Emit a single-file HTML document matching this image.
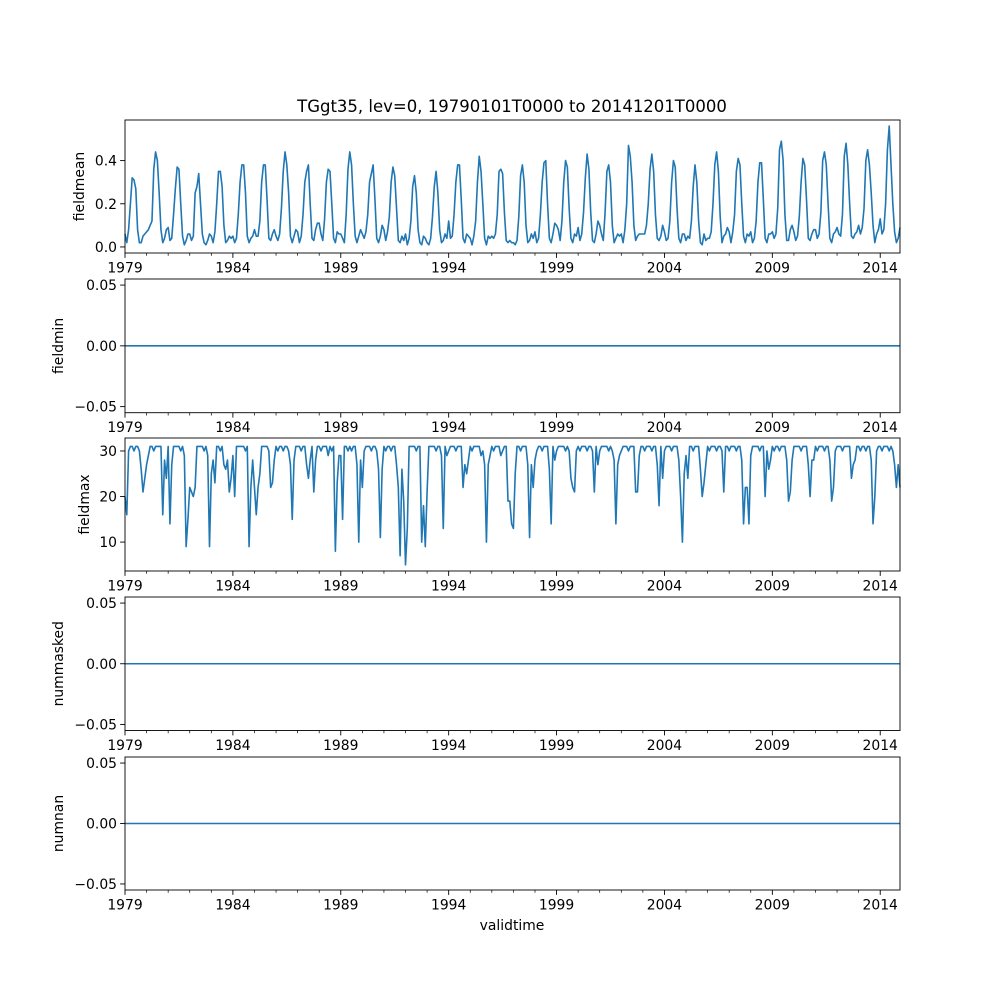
<!DOCTYPE html>
<html><head><meta charset="utf-8">
<style>
body{margin:0;background:#fff;}
svg text{font-family:"DejaVu Sans","Liberation Sans",sans-serif;fill:#000;}
</style></head>
<body>
<svg id="fig" width="1000" height="1000" viewBox="0 0 1000 1000" xmlns="http://www.w3.org/2000/svg">
<rect width="1000" height="1000" fill="#fff"/>
<text x="512" y="112" font-size="16.5" text-anchor="middle">TGgt35, lev=0, 19790101T0000 to 20141201T0000</text>
<text x="512" y="930" font-size="13.9" text-anchor="middle">validtime</text>
</svg>
<script>
// ---- data ----
const startYear = 1979;
const xTickYears = [1979,1984,1989,1994,1999,2004,2009,2014];
const fieldmean = [
.06,.02,.08,.20,.32,.31,.27,.08,.02,.02,.05,.06,
.07,.08,.10,.12,.36,.44,.40,.25,.08,.02,.04,.08,
.09,.03,.04,.15,.27,.37,.36,.20,.05,.01,.03,.06,
.06,.03,.05,.25,.28,.34,.20,.06,.02,.01,.03,.06,
.05,.02,.07,.20,.35,.35,.28,.10,.02,.03,.05,.04,
.05,.02,.04,.15,.30,.38,.38,.25,.05,.02,.04,.05,
.08,.05,.05,.12,.30,.38,.38,.22,.04,.03,.06,.08,
.05,.03,.06,.18,.35,.44,.38,.25,.05,.02,.05,.08,
.07,.02,.05,.15,.30,.35,.38,.20,.04,.03,.08,.11,
.11,.06,.03,.13,.30,.36,.35,.20,.04,.02,.07,.06,
.06,.04,.02,.15,.36,.44,.38,.20,.05,.02,.05,.08,
.06,.04,.07,.15,.30,.34,.38,.22,.04,.02,.05,.10,
.08,.03,.07,.14,.30,.37,.33,.18,.03,.02,.05,.03,
.06,.01,.04,.12,.28,.33,.25,.08,.02,.01,.05,.04,
.02,.01,.04,.14,.28,.35,.25,.08,.02,.03,.06,.04,
.12,.04,.05,.15,.30,.38,.38,.22,.04,.02,.06,.05,
.04,.01,.05,.12,.30,.42,.35,.20,.04,.01,.05,.04,
.05,.04,.06,.15,.35,.36,.34,.16,.03,.02,.03,.02,
.02,.01,.03,.14,.33,.38,.30,.10,.02,.03,.06,.04,
.07,.02,.04,.15,.30,.39,.40,.20,.04,.02,.06,.11,
.10,.08,.03,.12,.30,.40,.37,.18,.04,.02,.06,.05,
.09,.03,.06,.16,.32,.43,.36,.16,.03,.02,.06,.12,
.10,.06,.03,.16,.35,.38,.30,.10,.02,.04,.06,.05,
.06,.02,.08,.20,.47,.42,.30,.10,.03,.05,.06,.06,
.06,.06,.10,.20,.36,.43,.35,.15,.04,.03,.05,.10,
.07,.03,.04,.12,.30,.40,.37,.18,.04,.02,.06,.06,
.03,.05,.04,.12,.28,.38,.30,.12,.02,.01,.06,.03,
.04,.04,.07,.20,.38,.44,.35,.14,.02,.05,.06,.09,
.07,.02,.07,.15,.35,.41,.38,.20,.05,.02,.06,.05,
.07,.02,.04,.12,.30,.39,.39,.22,.04,.02,.06,.06,
.07,.04,.06,.18,.45,.49,.40,.15,.03,.03,.08,.10,
.07,.03,.05,.14,.30,.41,.38,.22,.04,.03,.06,.08,
.08,.04,.06,.16,.40,.44,.38,.20,.04,.02,.06,.07,
.09,.06,.05,.15,.42,.48,.38,.20,.05,.04,.06,.07,
.10,.06,.09,.18,.40,.45,.38,.25,.10,.02,.06,.08,
.13,.06,.08,.20,.45,.56,.38,.20,.07,.02,.04,.09
];
const fieldmax = [
20,16,30,31,31,30,31,31,30,26,21,24,
27,29,31,31,30,31,31,31,31,16,28,24,
31,14,27,31,31,31,31,30,31,29,9,15,
22,21,20,22,31,31,31,31,30,31,29,9,
25,28,23,31,31,30,31,27,26,28,21,24,
29,20,31,31,31,31,31,30,31,9,22,28,
22,16,22,25,31,31,31,31,30,22,23,28,
31,30,31,31,30,31,31,30,27,15,28,31,
31,31,30,31,31,27,24,28,31,21,28,31,
31,30,31,31,31,29,31,30,31,8,23,29,
29,15,31,31,30,31,30,31,31,27,10,28,
22,30,31,31,31,30,31,31,30,26,11,26,
31,30,31,31,30,31,31,27,22,7,26,19,
5,13,31,31,31,31,30,31,31,10,18,9,
21,31,31,31,31,30,31,31,29,13,31,29,
30,31,31,31,30,31,31,31,22,27,25,28,
31,30,31,31,31,31,29,30,27,10,27,29,
31,30,31,31,31,29,30,31,31,19,19,14,
13,25,31,31,30,31,31,31,27,11,27,22,
28,30,31,31,30,31,31,31,26,14,31,28,
30,31,31,31,31,30,31,30,24,22,21,30,
31,30,31,31,31,30,31,31,30,21,31,27,
30,31,31,31,31,30,31,30,28,14,27,29,
30,31,31,31,30,31,31,31,21,21,29,31,
31,30,31,31,31,30,31,31,27,18,31,24,
30,31,31,31,30,31,31,31,28,20,10,25,
29,24,31,31,30,31,31,31,26,20,23,27,
31,30,31,31,31,30,31,31,30,21,31,31,
30,31,31,31,30,31,31,28,14,22,22,14,
29,31,31,31,31,30,31,31,20,30,26,28,
31,30,31,31,30,31,31,31,28,19,21,28,
31,31,31,31,30,31,31,31,27,20,28,28,
31,30,31,31,31,30,31,31,28,19,22,30,
31,31,31,30,31,31,31,31,24,27,28,31,
31,30,31,31,30,31,31,28,14,20,30,31,
31,30,31,31,31,30,31,30,27,22,27,22
];
const fieldmin = new Array(432).fill(0);
const nummasked = new Array(432).fill(0);
const numnan = new Array(432).fill(0);
const meanTicks = [0.0,0.2,0.4];
const meanTickLabels = ["0.0","0.2","0.4"];
const maxTicks = [10,20,30];
const maxTickLabels = ["10","20","30"];
const zeroTicks = [-0.05,0,0.05];
const zeroTickLabels = ["\u22120.05","0.00","0.05"];

// ---- layout ----
const NS = "http://www.w3.org/2000/svg";
const svg = document.getElementById("fig");
const L = 125, R = 900;
const tEnd = 35 + 11/12;
function xScale(t){ return L + t / tEnd * (R - L); }
function mk(tag, attrs, parent){
  const e = document.createElementNS(NS, tag);
  for (const k in attrs) e.setAttribute(k, attrs[k]);
  (parent || svg).appendChild(e);
  return e;
}
const panels = [
  {name:"fieldmean", data:fieldmean, top:120, bot:253, ymin:-0.028, ymax:0.588, ticks:meanTicks, labels:meanTickLabels, labelX:84},
  {name:"fieldmin", data:fieldmin, top:279, bot:412.7, ymin:-0.055, ymax:0.055, ticks:zeroTicks, labels:zeroTickLabels, labelX:63},
  {name:"fieldmax", data:fieldmax, top:438, bot:571, ymin:3.65, ymax:32.85, ticks:maxTicks, labels:maxTickLabels, labelX:89},
  {name:"nummasked", data:nummasked, top:597, bot:730.5, ymin:-0.055, ymax:0.055, ticks:zeroTicks, labels:zeroTickLabels, labelX:63},
  {name:"numnan", data:numnan, top:757, bot:890, ymin:-0.055, ymax:0.055, ticks:zeroTicks, labels:zeroTickLabels, labelX:63}
];
panels.forEach(p => {
  const g = mk("g", {});
  
  
  const yScale = v => p.bot - (v - p.ymin) / (p.ymax - p.ymin) * (p.bot - p.top);
  // series
  let d = "";
  p.data.forEach((v, i) => {
    d += (i ? "L" : "M") + xScale(i/12).toFixed(2) + "," + yScale(v).toFixed(2);
  });
  const line = mk("path", {d:d, fill:"none", stroke:"#1f77b4", "stroke-width":"1.6", "stroke-linejoin":"round"}, g);
  
  
  // frame
  const fr = mk("rect", {x:L, y:p.top, width:R-L, height:p.bot-p.top, fill:"none", stroke:"#000", "stroke-width":"0.9"}, g);
  
  
  // y ticks
  p.ticks.forEach((v, i) => {
    const y = yScale(v);
    mk("line", {x1:L-4.9, x2:L, y1:y, y2:y, stroke:"#000", "stroke-width":"0.9"}, g);
    const t = mk("text", {x:L-8, y:y+5, "font-size":"13.9", "text-anchor":"end"}, g);
    t.textContent = p.labels[i];
    
    
  });
  // y label
  const cy = (p.top + p.bot) / 2;
  const yl = mk("text", {x:p.labelX, y:cy, "font-size":"13.9", "text-anchor":"middle", transform:"rotate(-90 " + p.labelX + " " + cy + ")"}, g);
  yl.textContent = p.name;
  
  
  // x minor ticks
  for (let yr = 0; yr <= 35; yr++) {
    const x = xScale(yr);
    const major = xTickYears.indexOf(startYear + yr) >= 0;
    mk("line", {x1:x, x2:x, y1:p.bot, y2:p.bot + (major ? 4.9 : 2.8), stroke:"#000", "stroke-width":major ? "0.9" : "0.7"}, g);
  }
  xTickYears.forEach(yr => {
    const t = mk("text", {x:xScale(yr - startYear), y:p.bot + 19.5, "font-size":"13.9", "text-anchor":"middle"}, g);
    t.textContent = String(yr);
    
    
  });
});
</script>
</body></html>
